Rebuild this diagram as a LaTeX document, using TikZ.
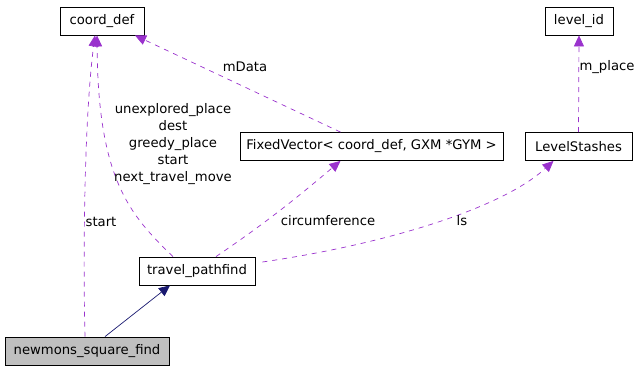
\documentclass[tikz,border=0pt]{standalone}
\usepackage{fontspec}
\setmainfont{DejaVu Sans}
\usepackage{xcolor}
\usetikzlibrary{arrows.meta, positioning}

\definecolor{usecol}{HTML}{9A32CD}
\definecolor{inhcol}{HTML}{191970}

\begin{document}
\begin{tikzpicture}[
        x=1pt, y=-1pt,
        font=\fontsize{13.2}{17}\selectfont,
        cls/.style={rectangle, draw, line width=0.8pt, fill=white, minimum height=28pt, inner sep=0pt, align=center},
        use/.style={-{Triangle[length=11pt,width=10pt]}, usecol, dashed, dash pattern=on 5pt off 5pt, line width=0.7pt},
        inherit/.style={-{Triangle[length=11pt,width=10pt]}, inhcol, line width=0.7pt},
        lbl/.style={text=black, inner sep=1pt, align=center}
    ]
    \useasboundingbox (0,0) rectangle (637,371);

    % classes
    \node[cls, minimum width=84pt] (coorddef) at (102,21) {coord\_def};
    \node[cls, minimum width=68pt] (levelid) at (579,21) {level\_id};
    \node[cls, minimum width=263pt] (fixvec) at (371.5,146.5) {FixedVector< coord\_def, GXM *GYM >};
    \node[cls, minimum width=107pt] (stashes) at (578.5,146.5) {LevelStashes};
    \node[cls, minimum width=116pt] (pathfind) at (197,271) {travel\_pathfind};
    \node[cls, minimum width=164pt, fill=gray!50] (squarefind) at (87,351) {newmons\_square\_find};

    % inheritance
    \draw[inherit] ([xshift=18pt]squarefind.north) -- ([xshift=-27pt]pathfind.south);

    % usage
    \draw[use] ([xshift=-2pt]squarefind.north) .. controls (83,260) and (84,120) .. ([xshift=-7pt]coorddef.south);
    \draw[use] ([xshift=-24pt]pathfind.north) .. controls (130,215) and (98,180) .. ([xshift=-5pt]coorddef.south);
    \draw[use] ([xshift=19pt]pathfind.north) .. controls (270,220) and (300,195) .. ([xshift=-31pt]fixvec.south);
    \draw[use] ([xshift=7pt,yshift=9pt]pathfind.east) .. controls (380,245) and (500,210) .. ([xshift=-25pt]stashes.south);
    \draw[use] ([xshift=-31pt]fixvec.north) -- ([xshift=33pt]coorddef.south);
    \draw[use] (stashes.north) -- (levelid.south);

    % labels
    \node[lbl] (lstart) at (101,222) {start};
    \node[lbl] (lmembers) at (173,144) {unexplored\_place\\dest\\greedy\_place\\start\\next\_travel\_move};
    \node[lbl] (lcirc) at (328,221) {circumference};
    \node[lbl] (lls) at (462,221) {ls};
    \node[lbl] (lmdata) at (245,67) {mData};
    \node[lbl] (lmplace) at (607,67) {m\_place};

\end{tikzpicture}
\end{document}
